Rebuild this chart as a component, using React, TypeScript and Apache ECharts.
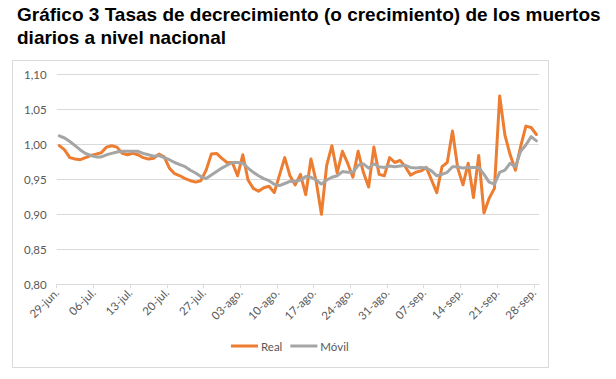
import React, { useEffect, useRef } from 'react';
import * as echarts from 'echarts';

const tickLabels = [
  '29-jun.', '06-jul.', '13-jul.', '20-jul.', '27-jul.', '03-ago.', '10-ago.',
  '17-ago.', '24-ago.', '31-ago.', '07-sep.', '14-sep.', '21-sep.', '28-sep.',
];

const seriesNames = ['Real', 'Móvil'];

const real = [
  0.998, 0.992, 0.981, 0.979, 0.978, 0.981, 0.984, 0.986, 0.988, 0.996,
  0.998, 0.996, 0.987, 0.985, 0.987, 0.985, 0.981, 0.979, 0.980, 0.986,
  0.982, 0.966, 0.958, 0.955, 0.951, 0.948, 0.946, 0.948, 0.963, 0.986,
  0.987, 0.980, 0.974, 0.974, 0.955, 0.985, 0.949, 0.937, 0.933, 0.938,
  0.940, 0.931, 0.956, 0.981, 0.955, 0.942, 0.957, 0.928, 0.979, 0.947,
  0.900, 0.970, 0.998, 0.959, 0.990, 0.973, 0.953, 0.990, 0.960, 0.939,
  0.996, 0.957, 0.955, 0.981, 0.974, 0.977, 0.968, 0.956, 0.960, 0.962,
  0.967, 0.949, 0.931, 0.968, 0.974, 1.019, 0.966, 0.942, 0.973, 0.924,
  0.984, 0.902, 0.923, 0.937, 1.069, 1.013, 0.985, 0.963, 0.997, 1.026,
  1.024, 1.014,
];

const movil = [
  1.012, 1.009, 1.004, 0.998, 0.992, 0.987, 0.984, 0.982, 0.982, 0.985,
  0.987, 0.989, 0.990, 0.990, 0.990, 0.990, 0.987, 0.985, 0.983, 0.984,
  0.981, 0.978, 0.974, 0.971, 0.968, 0.963, 0.959, 0.954, 0.951, 0.956,
  0.961, 0.966, 0.970, 0.974, 0.974, 0.973, 0.966, 0.960, 0.955, 0.951,
  0.948, 0.943, 0.941, 0.944, 0.947, 0.947, 0.949, 0.954, 0.953, 0.949,
  0.943, 0.949, 0.953, 0.955, 0.961, 0.960, 0.960, 0.970, 0.972, 0.966,
  0.972, 0.968, 0.967, 0.969, 0.968, 0.969, 0.970, 0.967, 0.966, 0.967,
  0.966, 0.962, 0.955, 0.957, 0.960, 0.968, 0.968, 0.966, 0.967, 0.967,
  0.967, 0.957, 0.946, 0.943, 0.960, 0.963, 0.973, 0.968, 0.990, 0.999,
  1.011, 1.005,
];

const DAYS_PER_TICK = 7;

export default function App() {
  const ref = useRef<HTMLDivElement>(null);
  useEffect(() => {
    if (!ref.current) return;
    const chart = echarts.init(ref.current, null, { renderer: 'svg' });
    const toPairs = (arr: number[]) => arr.map((v, i) => [i + 0.5, v]);
    const labelFont = 'Lato, "Open Sans", sans-serif';
    chart.setOption({
      animation: false,
      backgroundColor: '#ffffff',
      title: {
        text: 'Gráfico 3 Tasas de decrecimiento (o crecimiento) de los muertos\ndiarios a nivel nacional',
        left: 17,
        top: 3,
        padding: 0,
        textStyle: {
          fontFamily: '"Liberation Sans", Arial, sans-serif',
          fontWeight: 'bold',
          fontSize: 19,
          lineHeight: 23,
          color: '#000000',
        },
      },
      graphic: [
        {
          type: 'rect',
          silent: true,
          z: -1,
          shape: { x: 12.5, y: 60.5, width: 536, height: 307 },
          style: { fill: 'none', stroke: '#d9d9d9', lineWidth: 1 },
        },
      ],
      legend: {
        data: seriesNames,
        left: 231,
        top: 340,
        padding: 0,
        icon: 'rect',
        itemWidth: 27,
        itemHeight: 3,
        itemGap: 8,
        textStyle: { fontFamily: labelFont, fontSize: 11.5, color: '#595959', padding: [0, 0, 0, -2] },
      },
      grid: { left: 56.7, right: 77, top: 74.3, bottom: 94.7 },
      xAxis: {
        type: 'value',
        min: 0,
        max: real.length,
        interval: DAYS_PER_TICK,
        splitLine: { show: false },
        axisLine: { show: true, lineStyle: { color: '#d9d9d9', width: 1 } },
        axisTick: { show: true, length: 4, lineStyle: { color: '#d9d9d9' } },
        axisLabel: {
          rotate: 45,
          margin: 6,
          color: '#595959',
          fontFamily: labelFont,
          fontSize: 11.5,
          showMaxLabel: false,
          formatter: (v: number) => {
            const k = Math.round(v / DAYS_PER_TICK);
            if (Math.abs(k * DAYS_PER_TICK - v) > 1e-6) return '';
            return tickLabels[k] ?? '';
          },
        },
      },
      yAxis: {
        type: 'value',
        min: 0.8,
        max: 1.1,
        interval: 0.05,
        axisLine: { show: false },
        axisTick: { show: false },
        splitLine: { lineStyle: { color: '#d9d9d9', width: 1 } },
        axisLabel: {
          margin: 10,
          color: '#595959',
          fontFamily: labelFont,
          fontSize: 11.5,
          formatter: (v: number) => v.toFixed(2).replace('.', ','),
        },
      },
      series: [
        {
          name: seriesNames[0],
          type: 'line',
          data: toPairs(real),
          showSymbol: false,
          color: '#ED7D31',
          lineStyle: { color: '#ED7D31', width: 3, cap: 'round', join: 'round' },
        },
        {
          name: seriesNames[1],
          type: 'line',
          data: toPairs(movil),
          showSymbol: false,
          color: '#A5A5A5',
          lineStyle: { color: '#A5A5A5', width: 3, cap: 'round', join: 'round' },
        },
      ],
    });
    return () => chart.dispose();
  }, []);
  return (
    <div
      ref={ref}
      style={{ position: 'absolute', left: 0, top: 0, width: 616, height: 379, background: '#fff' }}
    />
  );
}
